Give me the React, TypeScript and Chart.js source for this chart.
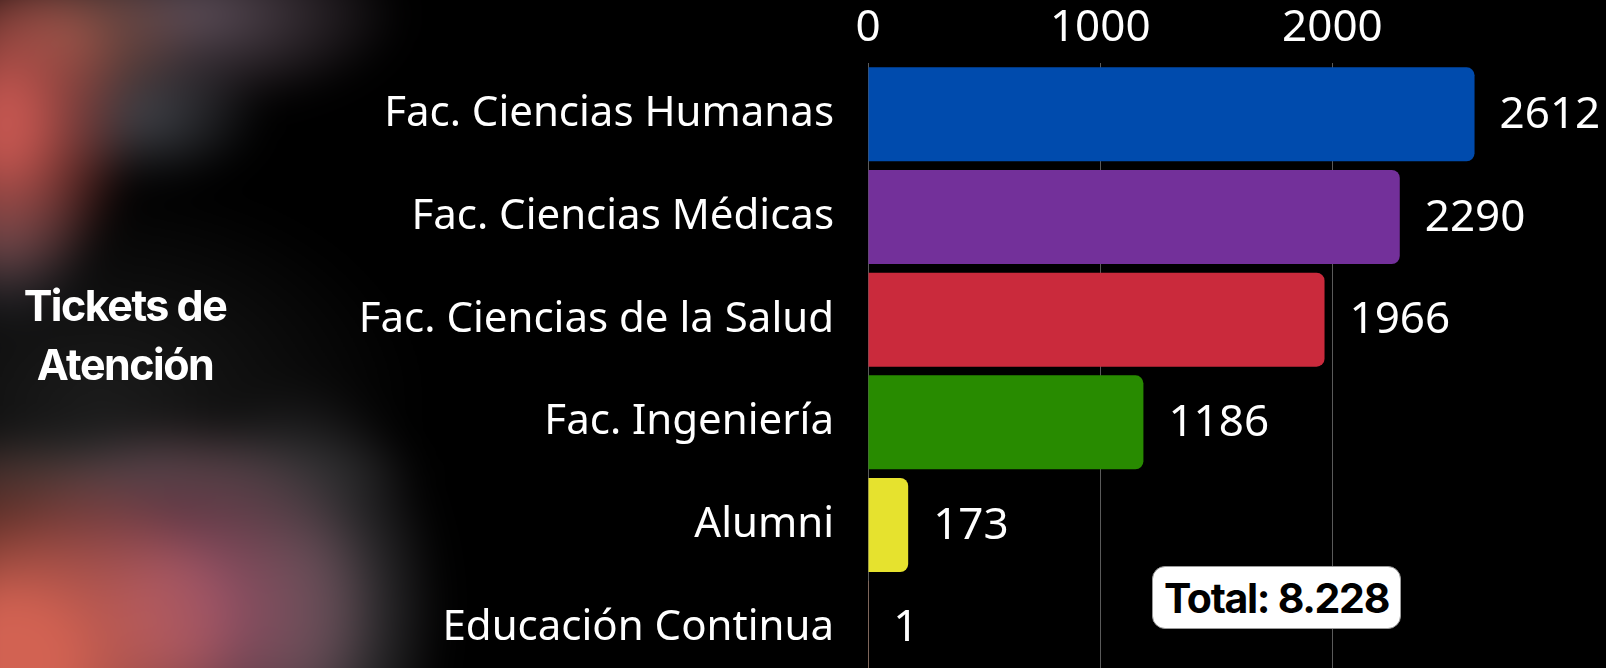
import React, { useEffect, useRef } from "react";
import { Chart, registerables } from "chart.js";

Chart.register(...registerables);

const categories = [
  "Fac. Ciencias Humanas",
  "Fac. Ciencias Médicas",
  "Fac. Ciencias de la Salud",
  "Fac. Ingeniería",
  "Alumni",
  "Educación Continua",
];
const ticketValues = [2612, 2290, 1966, 1186, 173, 1];
const barColors = ["#004BAD", "#73309A", "#CA2A3C", "#288B00", "#E6E22E", "#E08A60"];
const xTickValues = [0, 1000, 2000];
const titleLines = ["Tickets de", "Atención"];
const totalLabel = "Total: 8.228";

const LABEL_FONT = "'Noto Sans', sans-serif";

const valueLabelPlugin = {
  id: "valueLabels",
  afterDatasetsDraw(chart: any) {
    const ctx = chart.ctx;
    const meta = chart.getDatasetMeta(0);
    ctx.save();
    ctx.fillStyle = "#ffffff";
    ctx.font = `400 44px ${LABEL_FONT}`;
    ctx.textAlign = "left";
    ctx.textBaseline = "middle";
    meta.data.forEach((bar: any, i: number) => {
      ctx.fillText(String(ticketValues[i]), bar.x + 25, bar.y + 1);
    });
    ctx.restore();
  },
};

function TicketsChart() {
  const ref = useRef<HTMLCanvasElement | null>(null);
  useEffect(() => {
    if (!ref.current) return;
    const chart = new Chart(ref.current, {
      type: "bar",
      data: {
        labels: categories,
        datasets: [
          {
            data: ticketValues,
            backgroundColor: barColors,
            borderRadius: 8,
            borderSkipped: "start",
            categoryPercentage: 1,
            barPercentage: 0.915,
          },
        ],
      },
      options: {
        indexAxis: "y",
        animation: false,
        responsive: false,
        maintainAspectRatio: false,
        layout: { padding: { left: 0, right: 46, top: 0, bottom: 0 } },
        plugins: {
          legend: { display: false },
          tooltip: { enabled: false },
          title: { display: false },
        },
        scales: {
          x: {
            position: "top",
            min: 0,
            max: 2980,
            afterFit(scale: any) {
              scale.height = 63;
              scale.paddingLeft = 0;
              scale.paddingRight = 0;
            },
            afterBuildTicks(scale: any) {
              scale.ticks = xTickValues.map((v) => ({ value: v }));
            },
            ticks: {
              color: "#ffffff",
              padding: 8,
              font: { family: LABEL_FONT, size: 44 },
              callback: (v: any) => String(v),
            },
            grid: {
              color: "#5a5a5a",
              lineWidth: 1,
              drawTicks: false,
            },
            border: { display: false },
          },
          y: {
            afterFit(scale: any) {
              scale.width = 868;
              scale.paddingTop = 0;
              scale.paddingBottom = 0;
            },
            ticks: {
              color: "#ffffff",
              padding: 34,
              font: { family: LABEL_FONT, size: 42 },
            },
            grid: { display: false, drawTicks: false },
            border: { display: false },
          },
        },
      },
      plugins: [valueLabelPlugin],
    });
    return () => chart.destroy();
  }, []);
  return <canvas ref={ref} width={1606} height={679} style={{ position: "absolute", left: 0, top: 0, width: 1606, height: 679 }} />;
}

export default function App() {
  return (
    <div
      style={{
        position: "fixed",
        left: 0,
        top: 0,
        width: 1606,
        height: 668,
        overflow: "hidden",
        background: "#000",
      }}
    >
      <div
        style={{
          position: "absolute",
          left: -40,
          top: -40,
          width: 560,
          height: 760,
          filter: "blur(18px)",
          background: [
            "radial-gradient(ellipse 130px 170px at 45px 165px, rgba(195,86,80,1) 20%, rgba(195,86,80,0) 100%)",
            "radial-gradient(ellipse 130px 80px at 110px 75px, rgba(140,84,70,1), rgba(140,84,70,0) 100%)",
            "radial-gradient(ellipse 210px 95px at 235px 55px, rgba(100,84,96,0.95), rgba(100,84,96,0) 100%)",
            "radial-gradient(ellipse 120px 70px at 185px 155px, rgba(76,78,86,0.9), rgba(76,78,86,0) 100%)",
            "radial-gradient(ellipse 90px 90px at 45px 280px, rgba(70,70,80,0.9), rgba(70,70,80,0) 100%)",
            "radial-gradient(ellipse 230px 220px at 50px 700px, rgba(210,98,82,1) 25%, rgba(210,98,82,0) 100%)",
            "radial-gradient(ellipse 200px 190px at 220px 650px, rgba(150,82,102,1) 20%, rgba(150,82,102,0) 100%)",
            "radial-gradient(ellipse 140px 230px at 345px 650px, rgba(74,72,76,1) 20%, rgba(74,72,76,0) 100%)",
            "radial-gradient(ellipse 280px 50px at 190px 510px, rgba(64,64,64,0.95), rgba(64,64,64,0) 100%)",
            "radial-gradient(ellipse 320px 220px at 140px 440px, rgba(28,28,28,1), rgba(28,28,28,0) 100%)",
          ].join(", "),
        }}
      />
      <TicketsChart />
      <div
        style={{
          position: "absolute",
          left: 0,
          top: 276,
          width: 250,
          textAlign: "center",
          color: "#fff",
          fontFamily: "Inter, 'Liberation Sans', sans-serif",
          fontWeight: 700,
          fontSize: 43,
          lineHeight: "59px",
          letterSpacing: "-1.5px",
        }}
      >
        {titleLines.map((l) => (
          <div key={l}>{l}</div>
        ))}
      </div>
      <div
        style={{
          position: "absolute",
          left: 1152,
          top: 566,
          width: 249,
          height: 63,
          boxSizing: "border-box",
          borderRadius: 13,
          background: "#fff",
          border: "1px solid #9a9a9a",
          display: "flex",
          alignItems: "center",
          justifyContent: "center",
          color: "#000",
          fontFamily: "Inter, 'Liberation Sans', sans-serif",
          fontWeight: 700,
          fontSize: 41,
          letterSpacing: "-1.3px",
        }}
      >
        {totalLabel}
      </div>
    </div>
  );
}
